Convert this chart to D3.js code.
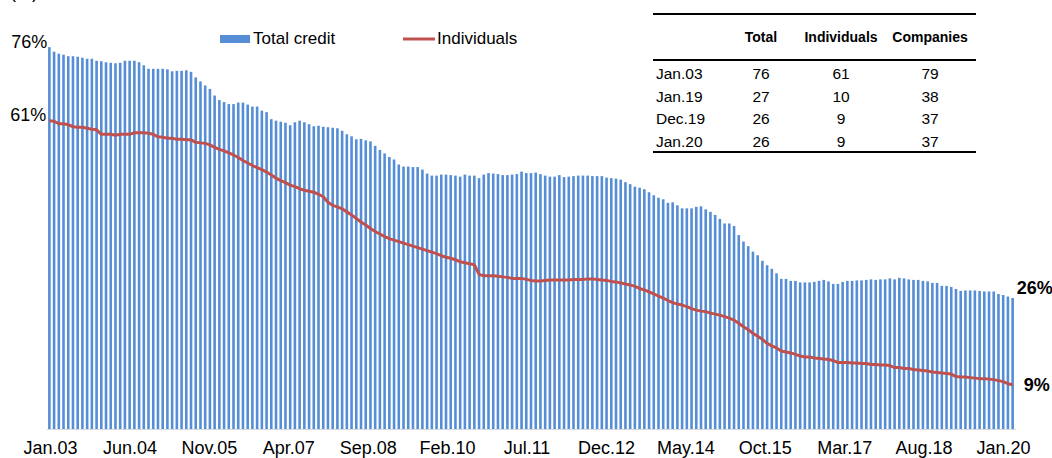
<!DOCTYPE html>
<html>
<head>
<meta charset="utf-8">
<script src="https://cdn.jsdelivr.net/npm/d3@7"></script>
<style>
  body { margin: 0; background: #fff; }
  svg { display: block; font-family: "Liberation Sans", Arial, sans-serif; }
</style>
</head>
<body>
<div id="chart"></div>
<script>
// monthly, Jan.03 .. Jan.20 (205 months)
const totalCredit = [
  75.8, 74.9, 74.5, 74.3, 74.0, 74.0, 73.9, 73.7, 73.5, 73.5,
  73.1, 73.0, 72.8, 72.7, 72.6, 72.7, 73.1, 73.1, 73.1, 72.8,
  72.2, 71.5, 71.5, 71.5, 71.5, 71.4, 71.0, 71.1, 71.1, 71.2,
  70.9, 69.8, 69.0, 68.2, 67.5, 66.2, 65.3, 64.9, 64.5, 64.5,
  64.8, 64.8, 64.4, 64.0, 64.0, 63.2, 62.9, 61.5, 61.2, 61.0,
  60.8, 60.3, 60.9, 61.2, 60.9, 60.5, 60.1, 60.2, 60.0, 59.9,
  59.8, 59.7, 59.2, 58.5, 58.1, 57.5, 57.6, 57.3, 57.1, 56.2,
  55.4, 54.7, 54.0, 53.5, 52.5, 52.1, 52.1, 52.0, 52.0, 51.5,
  50.7, 50.3, 50.3, 50.5, 50.5, 50.4, 50.3, 50.1, 50.5, 50.3,
  50.3, 49.8, 50.5, 50.8, 50.7, 50.6, 50.4, 50.4, 50.5, 50.6,
  51.1, 50.8, 50.8, 50.9, 50.6, 50.3, 50.1, 50.1, 50.4, 50.0,
  50.1, 50.2, 50.3, 50.3, 50.3, 50.2, 50.2, 50.2, 49.9, 49.8,
  49.7, 49.5, 49.0, 48.6, 48.1, 47.9, 47.6, 47.0, 46.4, 45.9,
  45.6, 44.9, 45.0, 44.4, 43.8, 43.8, 43.8, 44.1, 44.2, 43.6,
  43.1, 42.5, 41.7, 40.8, 40.8, 40.3, 38.5, 37.2, 36.3, 35.2,
  34.5, 33.4, 32.5, 31.8, 30.9, 29.8, 29.8, 29.4, 29.4, 29.1,
  29.1, 29.1, 29.2, 29.4, 29.6, 29.3, 28.8, 28.8, 29.2, 29.4,
  29.4, 29.5, 29.5, 29.6, 29.7, 29.6, 29.7, 29.7, 29.9, 29.7,
  30.0, 29.9, 29.7, 29.6, 29.6, 29.4, 29.3, 29.0, 29.0, 28.4,
  28.4, 28.2, 27.8, 27.4, 27.5, 27.5, 27.5, 27.4, 27.3, 27.3,
  27.3, 26.8, 26.6, 26.3, 26.0
];

const individuals = [
  61.2, 61.1, 60.6, 60.6, 60.4, 60.0, 59.9, 59.9, 59.7, 59.5,
  59.4, 58.5, 58.5, 58.5, 58.3, 58.5, 58.5, 58.5, 58.8, 58.8,
  58.8, 58.7, 58.5, 58.0, 57.9, 57.7, 57.7, 57.5, 57.5, 57.4,
  57.4, 56.9, 56.8, 56.7, 56.4, 55.9, 55.5, 55.2, 54.8, 54.4,
  53.9, 53.3, 52.8, 52.3, 51.9, 51.5, 51.0, 50.4, 49.8, 49.3,
  48.9, 48.4, 48.1, 47.7, 47.4, 47.2, 47.0, 46.6, 46.1, 45.0,
  44.4, 44.1, 43.7, 43.1, 42.5, 41.8, 41.1, 40.5, 39.8, 39.2,
  38.7, 38.2, 37.8, 37.5, 37.2, 36.9, 36.6, 36.3, 36.0, 35.7,
  35.4, 35.1, 34.8, 34.4, 34.1, 33.9, 33.6, 33.2, 33.0, 32.8,
  32.6, 30.7, 30.4, 30.4, 30.4, 30.3, 30.2, 30.1, 29.9, 29.9,
  29.9, 29.7, 29.5, 29.4, 29.4, 29.5, 29.6, 29.6, 29.6, 29.6,
  29.6, 29.7, 29.7, 29.7, 29.8, 29.8, 29.7, 29.6, 29.5, 29.3,
  29.2, 29.0, 28.8, 28.6, 28.3, 27.9, 27.6, 27.2, 26.8, 26.4,
  26.0, 25.5, 25.1, 24.8, 24.6, 24.3, 23.9, 23.6, 23.4, 23.3,
  23.0, 22.8, 22.6, 22.3, 22.0, 21.6, 21.0, 20.3, 19.7, 19.0,
  18.4, 17.8, 17.0, 16.5, 16.1, 15.5, 15.3, 15.1, 14.8, 14.5,
  14.3, 14.3, 14.1, 14.0, 13.9, 13.8, 13.6, 13.2, 13.2, 13.2,
  13.1, 13.1, 13.0, 13.0, 12.8, 12.8, 12.7, 12.7, 12.6, 12.2,
  12.2, 12.0, 12.0, 11.8, 11.7, 11.6, 11.5, 11.3, 11.2, 11.1,
  11.0, 10.9, 10.4, 10.3, 10.3, 10.2, 10.1, 10.0, 10.0, 9.9,
  9.8, 9.6, 9.4, 9.0, 8.8
];

const tickLabels = ["Jan.03", "Jun.04", "Nov.05", "Apr.07", "Sep.08", "Feb.10", "Jul.11",
  "Dec.12", "May.14", "Oct.15", "Mar.17", "Aug.18", "Jan.20"];

const tableHeader = ["", "Total", "Individuals", "Companies"];
const tableRows = [
  ["Jan.03", 76, 61, 79],
  ["Jan.19", 27, 10, 38],
  ["Dec.19", 26, 9, 37],
  ["Jan.20", 26, 9, 37]
];

const width = 1052;
const height = 458;
const margin = { top: 26, right: 37, bottom: 29, left: 47 };

const svg = d3.select("#chart").append("svg")
  .attr("width", width)
  .attr("height", height);

const months = d3.range(totalCredit.length);

const x = d3.scaleBand()
  .domain(months)
  .range([margin.left, width - margin.right])
  .paddingInner(0.45)
  .paddingOuter(0.225);

const y = d3.scaleLinear()
  .domain([0, 80])
  .range([height - margin.bottom, margin.top]);

const cx = i => x(i) + x.bandwidth() / 2;

// bars
svg.append("g")
  .attr("fill", "#558ed5")
  .selectAll("rect")
  .data(totalCredit)
  .join("rect")
  .attr("x", (d, i) => x(i))
  .attr("y", d => y(d))
  .attr("width", x.bandwidth())
  .attr("height", d => y(0) - y(d));

// baseline
svg.append("line")
  .attr("x1", margin.left)
  .attr("x2", width - margin.right + 1)
  .attr("y1", y(0) + 0.5)
  .attr("y2", y(0) + 0.5)
  .attr("stroke", "#d9d9d9")
  .attr("stroke-width", 1);

// individuals line
const line = d3.line()
  .x((d, i) => cx(i))
  .y(d => y(d));

svg.append("path")
  .datum(individuals)
  .attr("fill", "none")
  .attr("stroke", "#c0504d")
  .attr("stroke-width", 3)
  .attr("stroke-linejoin", "round")
  .attr("d", line);

// x labels (every 17 months)
const xl = d3.scalePoint()
  .domain(tickLabels)
  .range([50, 1003]);

const xAxis = svg.append("g")
  .attr("transform", `translate(0,${height - 4})`)
  .call(d3.axisBottom(xl).tickSize(0).tickPadding(0));
xAxis.select(".domain").remove();
xAxis.selectAll("text")
  .attr("dy", 0)
  .attr("y", 0)
  .style("font-size", "18px")
  .style("font-family", "Liberation Sans, Arial, sans-serif")
  .attr("fill", "#000");

// value labels
const last = totalCredit.length - 1;
svg.append("text")
  .attr("x", cx(0) - 2)
  .attr("y", y(totalCredit[0]) + 1)
  .attr("text-anchor", "end")
  .style("font-size", "18px")
  .text(Math.round(totalCredit[0]) + "%");

svg.append("text")
  .attr("x", cx(0) - 3)
  .attr("y", y(individuals[0]))
  .attr("text-anchor", "end")
  .style("font-size", "18px")
  .text(Math.round(individuals[0]) + "%");

svg.append("text")
  .attr("x", cx(last) + 4)
  .attr("y", y(totalCredit[last]) - 4)
  .style("font-size", "18px")
  .style("font-weight", "bold")
  .text(Math.round(totalCredit[last]) + "%");

svg.append("text")
  .attr("x", cx(last) + 11)
  .attr("y", y(individuals[last]) + 6)
  .style("font-size", "18px")
  .style("font-weight", "bold")
  .text(Math.round(individuals[last]) + "%");

svg.append("text")
  .attr("x", 10)
  .attr("y", -2)
  .style("font-size", "18px")
  .text("(%)");

// legend
const legend = svg.append("g");
legend.append("rect")
  .attr("x", 220).attr("y", 35)
  .attr("width", 30).attr("height", 8)
  .attr("fill", "#558ed5");
legend.append("text")
  .attr("x", 253).attr("y", 44)
  .style("font-size", "17px")
  .text("Total credit");
legend.append("line")
  .attr("x1", 403).attr("x2", 435)
  .attr("y1", 39).attr("y2", 39)
  .attr("stroke", "#c0504d")
  .attr("stroke-width", 3);
legend.append("text")
  .attr("x", 437).attr("y", 44)
  .style("font-size", "17px")
  .text("Individuals");

// table
const table = svg.append("g");
const tLeft = 653, tRight = 976;
const colX = [656, 761, 841, 930];
[14, 60, 152].forEach(ly => {
  table.append("line")
    .attr("x1", tLeft).attr("x2", tRight)
    .attr("y1", ly).attr("y2", ly)
    .attr("stroke", "#000")
    .attr("stroke-width", 2);
});

tableHeader.forEach((h, j) => {
  table.append("text")
    .attr("x", colX[j])
    .attr("y", 42)
    .attr("text-anchor", j === 0 ? "start" : "middle")
    .style("font-size", "14px")
    .style("font-weight", "bold")
    .text(h);
});

tableRows.forEach((row, r) => {
  row.forEach((v, j) => {
    table.append("text")
      .attr("x", colX[j])
      .attr("y", 79 + r * 22.6)
      .attr("text-anchor", j === 0 ? "start" : "middle")
      .style("font-size", "15.5px")
      .text(v);
  });
});
</script>
</body>
</html>
